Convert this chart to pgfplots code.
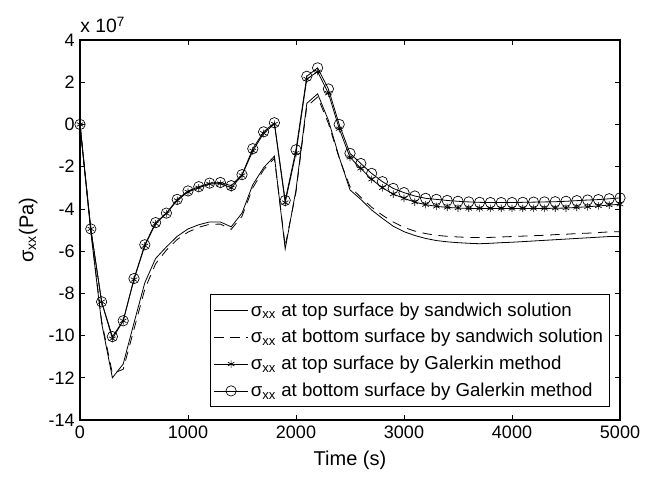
\documentclass[border=0pt]{standalone}
\usepackage{fontspec}
\setmainfont{Liberation Sans}
\usepackage{pgfplots}
\usepackage{pgfplotstable}
\pgfplotsset{compat=1.18}
\pgfplotsset{legend image code/.code={\draw[mark repeat=2,mark phase=2,#1] plot coordinates {(0pt,0pt) (12.5pt,0pt) (25pt,0pt)};}}

\pgfplotstableread{
t y
0 0
100 -5.1
200 -9.4
300 -12.0
400 -11.35
500 -9.4
600 -7.5
700 -6.35
800 -5.8
900 -5.3
1000 -4.95
1100 -4.75
1200 -4.62
1300 -4.62
1400 -4.85
1500 -4.2
1600 -2.85
1700 -2.05
1800 -1.5
1900 -5.9
2000 -3.1
2100 1.0
2200 1.45
2300 0.2
2400 -1.55
2500 -3.1
2600 -3.55
2700 -4.05
2800 -4.45
2900 -4.82
3000 -5.08
3100 -5.26
3200 -5.4
3300 -5.5
3400 -5.56
3500 -5.6
3600 -5.63
3700 -5.65
3800 -5.63
3900 -5.6
4000 -5.58
4100 -5.55
4200 -5.52
4300 -5.49
4400 -5.46
4500 -5.43
4600 -5.4
4700 -5.37
4800 -5.34
4900 -5.31
5000 -5.31
}\sandtop

\pgfplotstableread{
t y
0 0
100 -5.0
200 -9.3
300 -11.8
400 -11.6
500 -9.7
600 -7.8
700 -6.6
800 -5.95
900 -5.45
1000 -5.1
1100 -4.87
1200 -4.73
1300 -4.72
1400 -4.97
1500 -4.35
1600 -3.0
1700 -2.15
1800 -1.6
1900 -5.75
2000 -3.2
2100 0.85
2200 1.3
2300 0.05
2400 -1.6
2500 -2.95
2600 -3.45
2700 -3.92
2800 -4.3
2900 -4.62
3000 -4.88
3100 -5.05
3200 -5.17
3300 -5.25
3400 -5.3
3500 -5.33
3600 -5.35
3700 -5.36
3800 -5.35
3900 -5.33
4000 -5.31
4100 -5.29
4200 -5.27
4300 -5.25
4400 -5.22
4500 -5.2
4600 -5.17
4700 -5.15
4800 -5.12
4900 -5.09
5000 -5.08
}\sandbot

\pgfplotstableread{
t y
0 0
100 -4.95
200 -8.4
300 -10.15
400 -9.3
500 -7.35
600 -5.75
700 -4.7
800 -4.22
900 -3.6
1000 -3.2
1100 -3.0
1200 -2.82
1300 -2.8
1400 -3.0
1500 -2.42
1600 -1.25
1700 -0.42
1800 0.02
1900 -3.7
2000 -1.35
2100 2.15
2200 2.5
2300 1.48
2400 -0.2
2500 -1.56
2600 -2.08
2700 -2.6
2800 -3.0
2900 -3.3
3000 -3.5
3100 -3.68
3200 -3.8
3300 -3.88
3400 -3.93
3500 -3.96
3600 -3.98
3700 -3.98
3800 -3.98
3900 -3.98
4000 -3.98
4100 -3.98
4200 -3.98
4300 -3.98
4400 -3.97
4500 -3.96
4600 -3.93
4700 -3.9
4800 -3.86
4900 -3.82
5000 -3.78
}\galtop

\pgfplotstableread{
t y
0 0
100 -4.95
200 -8.4
300 -10.05
400 -9.3
500 -7.3
600 -5.7
700 -4.65
800 -4.2
900 -3.55
1000 -3.15
1100 -2.95
1200 -2.78
1300 -2.75
1400 -2.9
1500 -2.38
1600 -1.15
1700 -0.35
1800 0.08
1900 -3.6
2000 -1.2
2100 2.28
2200 2.68
2300 1.68
2400 0.0
2500 -1.37
2600 -1.85
2700 -2.32
2800 -2.71
2900 -3.03
3000 -3.23
3100 -3.39
3200 -3.5
3300 -3.55
3400 -3.6
3500 -3.64
3600 -3.67
3700 -3.69
3800 -3.7
3900 -3.7
4000 -3.7
4100 -3.69
4200 -3.68
4300 -3.67
4400 -3.66
4500 -3.64
4600 -3.61
4700 -3.58
4800 -3.56
4900 -3.52
5000 -3.48
}\galbot

\begin{document}
\begin{tikzpicture}
\path[use as bounding box] (-60pt,-43.5pt) rectangle (434.25pt,315pt);
\begin{axis}[
  at={(0,0)}, anchor=south west,
  scale only axis, width=405pt, height=285pt,
  xmin=0, xmax=5000, ymin=-14, ymax=4,
  xtick={0,1000,...,5000}, ytick={-14,-12,...,4},
  tick align=inside, major tick length=4pt,
  scaled ticks=false,
  /pgf/number format/assume math mode=true,
  /pgf/number format/set thousands separator={},
  tick label style={font=\fontsize{13.5}{16}\selectfont},
  xticklabel style={yshift=-1pt},
  yticklabel style={xshift=-0.5pt},
  xlabel={Time (s)},
  ylabel={σ\textsubscript{xx}(Pa)},
  xlabel style={at={(axis description cs:0.5,-0.105)}, anchor=center, font=\fontsize{15}{18}\selectfont},
  ylabel style={at={(axis description cs:-0.096,0.5)}, anchor=center, rotate=0, font=\fontsize{15}{18}\selectfont},
  axis line style={line width=0.8pt},
  every tick/.style={black, line width=0.5pt},
  clip=false,
  legend style={at={(0.9815,0.034)}, anchor=south east,
    font=\fontsize{14}{16.5}\selectfont, draw=black, line width=0.6pt, row sep=4.5pt,
    inner xsep=3pt, inner ysep=4pt,
    /tikz/every even column/.append style={column sep=4pt}},
  legend cell align=left,
]
\addplot[black, line width=0.6pt] table[x=t,y=y] {\sandtop};
\addlegendentry{σ\textsubscript{xx} at top surface by sandwich solution}
\addplot[black, line width=0.6pt, dash pattern=on 7pt off 5pt] table[x=t,y=y] {\sandbot};
\addlegendentry{σ\textsubscript{xx} at bottom surface by sandwich solution}
\addplot[black, line width=0.6pt, mark=asterisk, mark size=2.8pt, mark options={solid, line width=0.5pt}] table[x=t,y=y] {\galtop};
\addlegendentry{σ\textsubscript{xx} at top surface by Galerkin method}
\addplot[black, line width=0.6pt, mark=o, mark size=3.9pt, mark options={solid, line width=0.5pt}] table[x=t,y=y] {\galbot};
\addlegendentry{σ\textsubscript{xx} at bottom surface by Galerkin method}
\node[anchor=base west, font=\fontsize{14.5}{17}\selectfont, inner sep=0pt] at (rel axis cs:0,1) [yshift=5.25pt] {x 10\textsuperscript{7}};
\end{axis}
\end{tikzpicture}
\end{document}
